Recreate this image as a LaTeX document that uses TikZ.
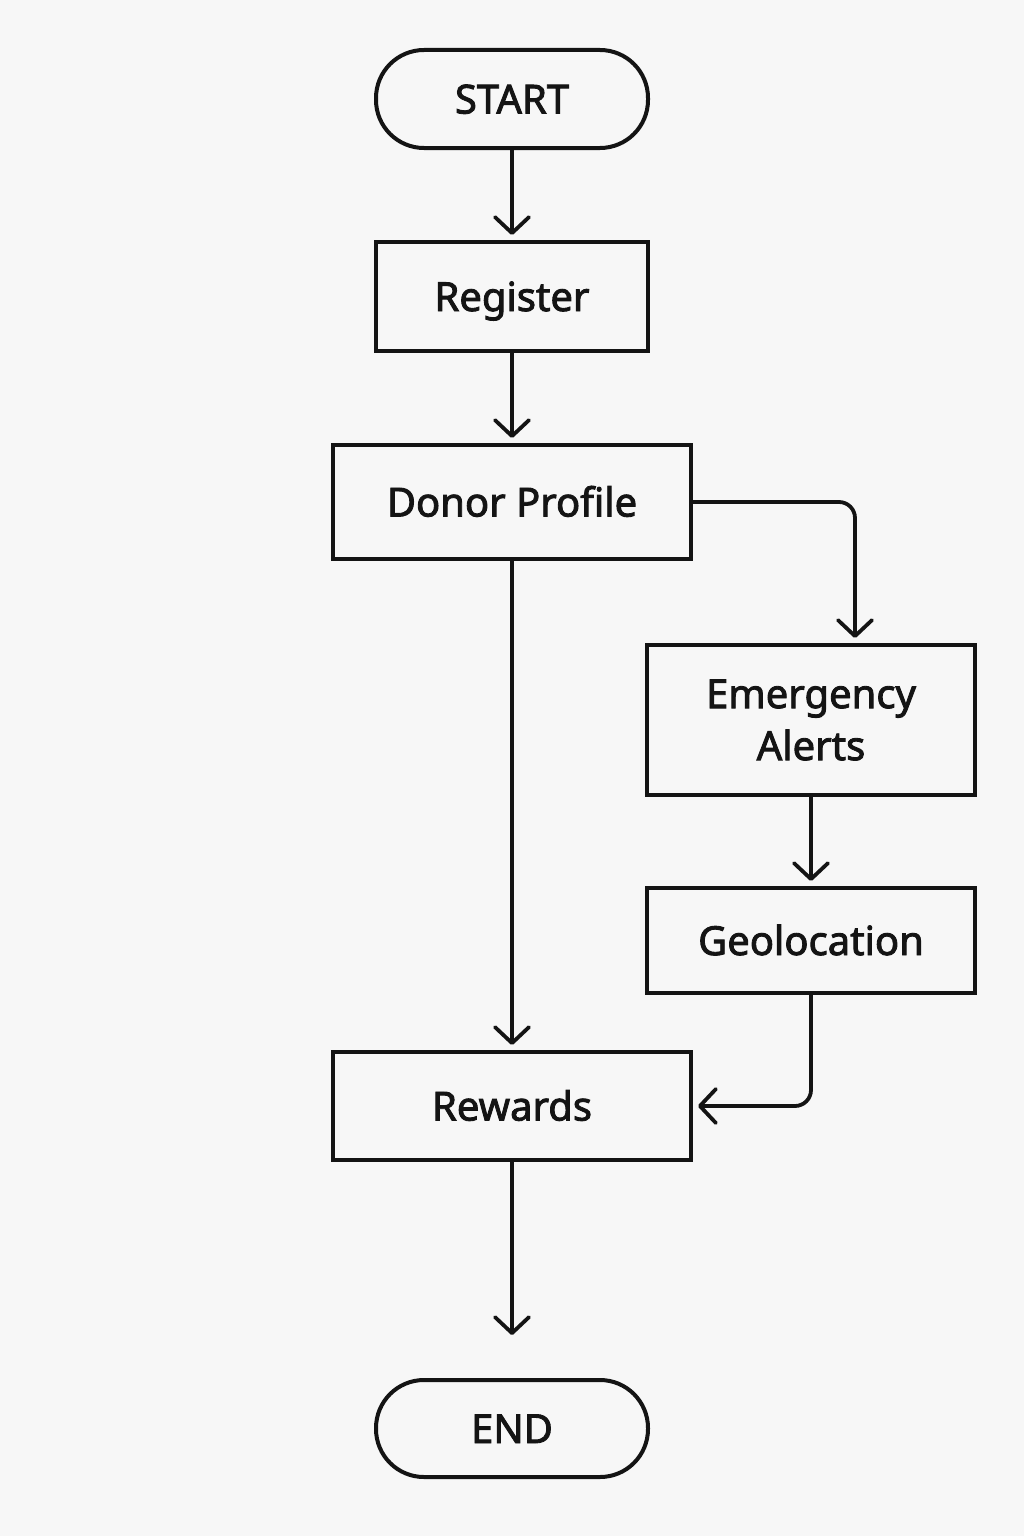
\documentclass[tikz,border=0pt]{standalone}
\usepackage{fontspec}
\setmainfont{Noto Sans}[FakeBold=2.2]
\usetikzlibrary{arrows.meta}
\definecolor{bg}{RGB}{247,247,247}
\definecolor{ink}{RGB}{20,20,20}
\begin{document}
\begin{tikzpicture}[x=1pt,y=-1pt,
  every node/.style={font=\fontsize{40}{52}\selectfont, text=ink},
  box/.style={draw=ink, line width=4pt, rectangle, inner sep=0pt, align=center},
  oneline/.style={text height=29pt, text depth=0pt},
  pill/.style={box, rounded corners=48pt},
  conn/.style={draw=ink, line width=3.8pt, line cap=round, line join=round, rounded corners=16pt,
    -{Straight Barb[length=16pt,width=34pt,line width=3.8pt,line cap=round,line join=round]}, shorten >=5pt}]
\fill[bg] (0,0) rectangle (1024,1536);
\useasboundingbox (0,0) rectangle (1024,1536);
\node[pill, oneline, minimum width=272pt, minimum height=98pt] (start) at (512,99) {START};
\node[box, oneline, minimum width=272pt, minimum height=109pt] (reg) at (512,296.5) {Register};
\node[box, oneline, minimum width=358pt, minimum height=114pt] (donor) at (512,502) {Donor Profile};
\node[box, minimum width=328pt, minimum height=150pt] (emerg) at (811,720) {Emergency\\Alerts};
\node[box, oneline, minimum width=328pt, minimum height=105pt] (geo) at (811,940.5) {Geolocation};
\node[box, oneline, minimum width=358pt, minimum height=108pt] (rew) at (512,1106) {Rewards};
\node[pill, oneline, minimum width=272pt, minimum height=97pt] (endn) at (512,1428.5) {END};
\coordinate (endtip) at ([yshift=38pt]endn.north);
\draw[conn] (start) -- (reg);
\draw[conn] (reg) -- (donor);
\draw[conn] (donor.east) -| ([xshift=44pt]emerg.north);
\draw[conn] (emerg) -- (geo);
\draw[conn] (geo.south) |- (rew.east);
\draw[conn] (donor) -- (rew);
\draw[conn] (rew) -- (endtip);
\end{tikzpicture}
\end{document}
